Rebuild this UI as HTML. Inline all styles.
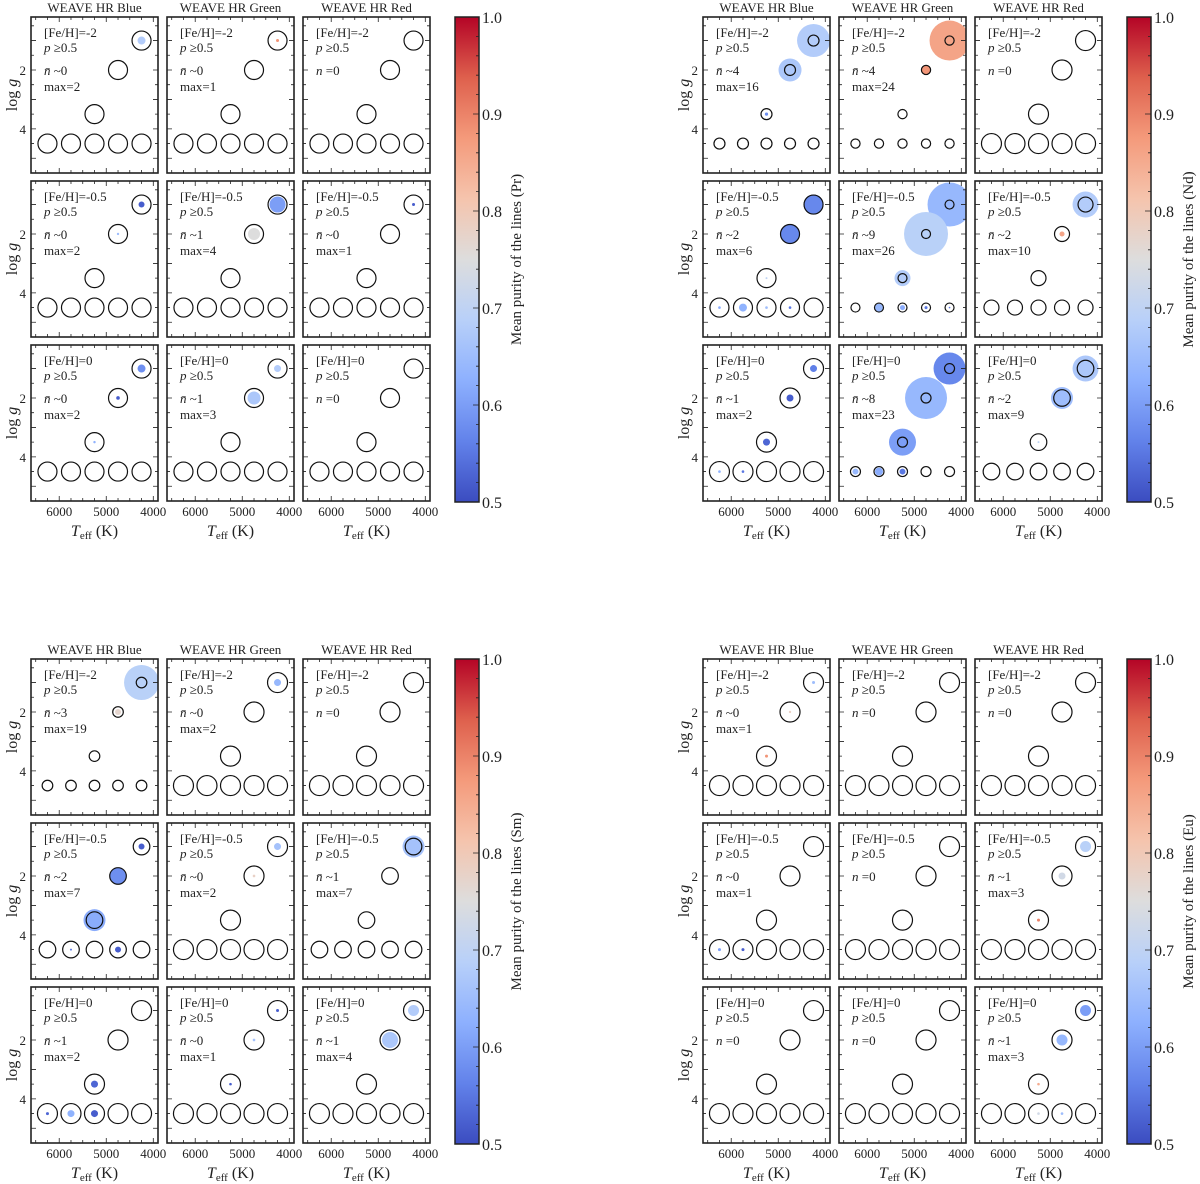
<!DOCTYPE html>
<html><head><meta charset="utf-8">
<style>
html,body{margin:0;padding:0;background:#fff;}
svg{display:block;font-family:"Liberation Serif","DejaVu Serif",serif;}
</style></head>
<body>
<svg id="fig" width="1200" height="1184" viewBox="0 0 1200 1184" xmlns="http://www.w3.org/2000/svg">
<defs>
<linearGradient id="cw" x1="0" y1="1" x2="0" y2="0">
<stop offset="0" stop-color="rgb(59,76,192)"/>
<stop offset="0.125" stop-color="rgb(98,130,234)"/>
<stop offset="0.25" stop-color="rgb(141,176,254)"/>
<stop offset="0.375" stop-color="rgb(184,208,249)"/>
<stop offset="0.5" stop-color="rgb(221,221,221)"/>
<stop offset="0.625" stop-color="rgb(245,196,173)"/>
<stop offset="0.75" stop-color="rgb(244,154,123)"/>
<stop offset="0.875" stop-color="rgb(222,96,77)"/>
<stop offset="1" stop-color="rgb(180,4,38)"/>
</linearGradient>
</defs>
</svg>
<script>
// ---- data ----
const elements = ["Pr", "Nd", "Sm", "Eu"];
const gratings = ["WEAVE HR Blue", "WEAVE HR Green", "WEAVE HR Red"];
const metallicities = ["-2", "-0.5", "0"];
const teffTicks = [6000, 5000, 4000];
const loggTicks = [2, 4];
const cbarTicks = [0.5, 0.6, 0.7, 0.8, 0.9, 1.0];
const giantTeff = [4250, 4750, 5250];
const giantLogg = [1.0, 2.0, 3.5];
const dwarfTeff = [6250, 5750, 5250, 4750, 4250];
const dwarfLogg = 4.5;
// per element, per panel (row-major: [Fe/H] row, grating column): mean n ("0" means n=0), max
const prNbar = ["0","0",null, "0","1","0", "0","1",null];
const prMax  = [2,1,0, 2,4,1, 2,3,0];
const ndNbar = ["4","4",null, "2","9","2", "1","8","2"];
const ndMax  = [16,24,0, 6,26,10, 2,23,9];
const smNbar = ["3","0",null, "2","0","1", "1","0","1"];
const smMax  = [19,2,0, 7,2,7, 2,1,4];
const euNbar = ["0",null,null, "0",null,"1", null,null,"1"];
const euMax  = [1,0,0, 1,0,3, 0,0,3];
// open circle radius per panel
const prOpenR = [9.5,9.5,9.5, 9.5,9.5,9.5, 9.5,9.5,9.5];
const ndOpenR = [5.5,4.6,10, 9.5,4.5,7.5, 10,5,8.3];
const smOpenR = [5.3,10,10, 8.3,10,8.3, 10,10,10];
const euOpenR = [10,10,10, 10,10,10, 10,10,10];
// filled markers: [panel, Teff, logg, radius, purity]
const prFills = [
 [0,4250,1,4,0.68],[1,4250,1,1.5,0.88],
 [3,4250,1,3,0.52],[3,4750,2,1.2,0.65],[4,4250,1,8,0.6],[4,4750,2,6,0.75],[5,4250,1,1.5,0.52],
 [6,4250,1,4,0.58],[6,4750,2,1.8,0.52],[6,5250,3.5,1.2,0.63],[7,4250,1,3.5,0.68],[7,4750,2,6.5,0.67]
];
const ndFills = [
 [0,4250,1,16.5,0.68],[0,4750,2,11.5,0.67],[0,5250,3.5,1.6,0.58],
 [1,4250,1,20,0.86],[1,4750,2,5,0.88],
 [3,4250,1,10,0.57],[3,4750,2,10,0.57],[3,5250,3.5,1,0.7],[3,6250,4.5,1.3,0.62],[3,5750,4.5,4,0.63],[3,5250,4.5,1.3,0.65],[3,4750,4.5,1.3,0.55],
 [4,4250,1,22,0.64],[4,4750,2,22,0.69],[4,5250,3.5,8,0.68],[4,5750,4.5,4,0.64],[4,5250,4.5,2.5,0.62],[4,4750,4.5,1.5,0.55],[4,4250,4.5,0.8,0.55],
 [5,4250,1,13,0.68],[5,4750,2,2.5,0.86],
 [6,4250,1,3.5,0.56],[6,4750,2,3.5,0.52],[6,5250,3.5,3.5,0.53],[6,6250,4.5,1.3,0.63],[6,5750,4.5,1.3,0.55],
 [7,4250,1,16,0.57],[7,4750,2,21,0.64],[7,5250,3.5,13.5,0.6],[7,6250,4.5,3,0.64],[7,5750,4.5,4,0.62],[7,5250,4.5,3,0.55],
 [8,4250,1,13,0.67],[8,4750,2,11,0.65],[8,5250,3.5,1,0.7]
];
const smFills = [
 [0,4250,1,17.5,0.69],[0,4750,2,3,0.77],[1,4250,1,3.5,0.64],
 [3,4250,1,3,0.52],[3,4750,2,8.3,0.58],[3,5250,3.5,11,0.62],[3,5750,4.5,1,0.55],[3,4750,4.5,3,0.52],
 [4,4250,1,3.5,0.66],[4,4750,2,1.3,0.78],[5,4250,1,11,0.66],
 [6,5250,3.5,3.5,0.53],[6,6250,4.5,1.5,0.53],[6,5750,4.5,3.5,0.63],[6,5250,4.5,3.5,0.52],
 [7,4250,1,1.5,0.52],[7,4750,2,1.3,0.66],[7,5250,3.5,1.3,0.52],
 [8,4250,1,5.5,0.68],[8,4750,2,8,0.67]
];
const euFills = [
 [0,4250,1,1.5,0.65],[0,4750,2,1.2,0.78],[0,5250,3.5,1.5,0.88],
 [3,6250,4.5,1.5,0.6],[3,5750,4.5,1.5,0.52],
 [5,4250,1,5.5,0.69],[5,4750,2,3.5,0.73],[5,5250,3.5,1.5,0.9],
 [8,4250,1,5.5,0.6],[8,4750,2,5.5,0.64],[8,5250,3.5,1.3,0.85],[8,5250,4.5,1.3,0.73],[8,4750,4.5,1.3,0.65]
];
const quadNbar = [prNbar, ndNbar, smNbar, euNbar];
const quadMax = [prMax, ndMax, smMax, euMax];
const quadOpenR = [prOpenR, ndOpenR, smOpenR, euOpenR];
const quadFills = [prFills, ndFills, smFills, euFills];

// ---- layout ----
const NS = "http://www.w3.org/2000/svg";
const svg = document.getElementById("fig");
const quadX = [0, 672, 0, 672], quadY = [0, 0, 642, 642];
const PW = 127, PH = 156, TMAX = 6600, TMIN = 3900, GMIN = 0.2, GMAX = 5.5;
function xScale(t, left) { return left + (TMAX - t) / (TMAX - TMIN) * PW; }
function yScale(g, top) { return top + (g - GMIN) / (GMAX - GMIN) * PH; }
const cws = [[59,76,192],[98,130,234],[141,176,254],[184,208,249],[221,221,221],[245,196,173],[244,154,123],[222,96,77],[180,4,38]];
function cmap(v) {
  let f = Math.max(0, Math.min(1, (v - 0.5) / 0.5)) * 8;
  let i = Math.min(7, Math.floor(f)), r = f - i;
  const c = cws[i].map((a, k) => Math.round(a + (cws[i+1][k] - a) * r));
  return `rgb(${c[0]},${c[1]},${c[2]})`;
}
function mk(tag, attrs, parent) {
  const e = document.createElementNS(NS, tag);
  for (const k in attrs) e.setAttribute(k, attrs[k]);
  (parent || svg).appendChild(e);
  return e;
}
function txt(s, attrs, parent) { const e = mk("text", attrs, parent); e.textContent = s; return e; }

for (let q = 0; q < 4; q++) {
  const qx = quadX[q], qy = quadY[q];
  const qg = mk("g", {});
  
  
  for (let r = 0; r < 3; r++) for (let c = 0; c < 3; c++) {
    const p = r * 3 + c;
    const left = qx + 31 + c * 136, top = qy + 17 + r * 164;
    const pg = mk("g", {}, qg);
    
    
    const cid = "clip" + q + "_" + p;
    const cp = mk("clipPath", {id: cid}, pg);
    mk("rect", {x: left, y: top, width: PW, height: PH}, cp);
    const fg = mk("g", {"clip-path": "url(#" + cid + ")"}, pg);
    // fills
    for (const f of quadFills[q]) {
      if (f[0] !== p) continue;
      const d = mk("circle", {cx: xScale(f[1], left), cy: yScale(f[2], top), r: f[3], fill: cmap(f[4])}, fg);
      
      
    }
    // open circles
    const oR = quadOpenR[q][p];
    for (let i = 0; i < 3; i++) {
      const o = mk("circle", {cx: xScale(giantTeff[i], left), cy: yScale(giantLogg[i], top), r: oR, fill: "none", stroke: "#111", "stroke-width": 1.2}, fg);
      
      
    }
    for (let i = 0; i < 5; i++) {
      const o = mk("circle", {cx: xScale(dwarfTeff[i], left), cy: yScale(dwarfLogg, top), r: oR, fill: "none", stroke: "#111", "stroke-width": 1.2}, fg);
      
      
    }
    // ticks
    let tk = "";
    for (let t = 4000; t <= 6500; t += 250) {
      const x = xScale(t, left), L = (t % 1000 === 0) ? 5 : 3;
      tk += `M${x},${top}v${L}M${x},${top+PH}v${-L}`;
    }
    for (let g = 0.5; g <= 5.5; g += 0.5) {
      const y = yScale(g, top), L = (g % 1 === 0) ? 5 : 3;
      tk += `M${left},${y}h${L}M${left+PW},${y}h${-L}`;
    }
    mk("path", {d: tk, stroke: "#222", "stroke-width": 0.8, fill: "none"}, pg);
    const fr = mk("rect", {x: left, y: top, width: PW, height: PH, fill: "none", stroke: "#222", "stroke-width": 1.6}, pg);
    
    
    // annotations
    const tx = left + 13, fs = 13;
    const a1 = txt("[Fe/H]=" + metallicities[r], {x: tx, y: top + 20, "font-size": fs, fill: "#222"}, pg);
    
    
    const a2 = mk("text", {x: tx, y: top + 35, "font-size": fs, fill: "#222"}, pg);
    a2.innerHTML = '<tspan font-style="italic">p</tspan> ≥0.5';
    
    
    const nb = quadNbar[q][p];
    const a3 = mk("text", {x: tx, y: top + 58, "font-size": fs, fill: "#222"}, pg);
    a3.innerHTML = nb === null ? '<tspan font-style="italic">n</tspan> =0' : '<tspan font-style="italic">n̄</tspan> ~' + nb;
    
    
    if (nb !== null) {
      const a4 = txt("max=" + quadMax[q][p], {x: tx, y: top + 74, "font-size": fs, fill: "#222"}, pg);
      
      
    }
    if (r === 0) {
      const tt = txt(gratings[c], {x: left + PW / 2, y: top - 5, "font-size": 13, "text-anchor": "middle", fill: "#222"}, pg);
      
      
    }
    if (c === 0) {
      for (const g of loggTicks) {
        const yl = txt(String(g), {x: left - 5, y: yScale(g, top) + 5, "font-size": 13, "text-anchor": "end", fill: "#222"}, pg);
        
        
      }
      const cy = top + PH / 2;
      const ya = mk("text", {x: 0, y: 0, "font-size": 16, "text-anchor": "middle", fill: "#222", transform: `translate(${left - 14},${cy}) rotate(-90)`}, pg);
      ya.innerHTML = 'log <tspan font-style="italic">g</tspan>';
      
      
    }
    if (r === 2) {
      for (const t of teffTicks) {
        const xl = txt(String(t), {x: xScale(t, left), y: top + PH + 15, "font-size": 13, "text-anchor": "middle", fill: "#222"}, pg);
        
        
      }
      const xa = mk("text", {x: left + PW / 2, y: top + PH + 35, "font-size": 16, "text-anchor": "middle", fill: "#222"}, pg);
      xa.innerHTML = '<tspan font-style="italic">T</tspan><tspan font-size="11" dy="3">eff</tspan><tspan dy="-3"> (K)</tspan>';
      
      
    }
  }
  // colorbar
  const cx = qx + 455, cy0 = qy + 17, cw = 24, ch = 485;
  const cb = mk("g", {}, qg);
  
  
  mk("rect", {x: cx, y: cy0, width: cw, height: ch, fill: "url(#cw)", stroke: "#222", "stroke-width": 1.5}, cb);
  let ct = "";
  for (let v = 0.52; v < 0.999; v += 0.02) {
    const y = cy0 + ch - (v - 0.5) / 0.5 * ch;
    const major = Math.abs(v * 10 - Math.round(v * 10)) < 0.01;
    ct += `M${cx + cw},${y}h${major ? -6 : -3}`;
  }
  mk("path", {d: ct, stroke: "#222", "stroke-width": 0.8}, cb);
  for (const v of cbarTicks) {
    const y = cy0 + ch - (v - 0.5) / 0.5 * ch;
    const l = txt(v.toFixed(1), {x: cx + cw + 3, y: y + 6, "font-size": 16, fill: "#222"}, cb);
    
    
  }
  const cl = txt("Mean purity of the lines (" + elements[q] + ")", {x: 0, y: 0, "font-size": 15, "text-anchor": "middle", fill: "#222", transform: `translate(${cx + 66},${cy0 + ch / 2}) rotate(-90)`}, cb);
  
  
}
</script>
</body></html>
